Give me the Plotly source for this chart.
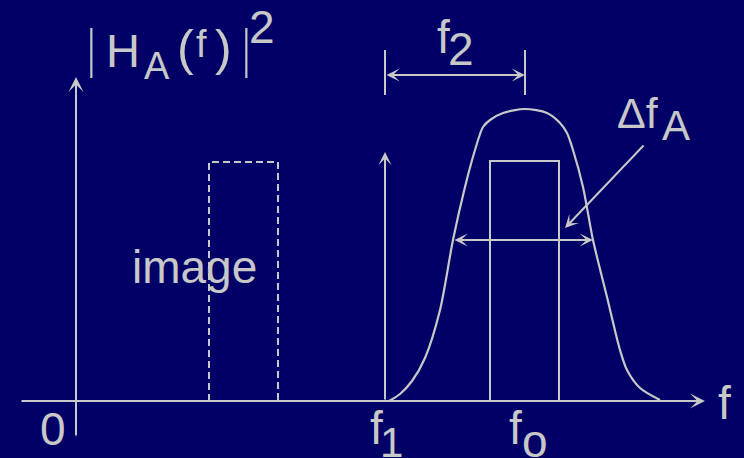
import plotly.graph_objects as go

# Frequency-domain sketch of the IF filter response and the image band.
# Units are measured from the origin (f = 0, |H_A(f)|^2 = 0).
FREQ_AXIS = [-56, 629]          # frequency axis extent
AMP_AXIS = [-36, 324]           # |H_A(f)|^2 axis extent
F1 = 309                        # local-oscillator line f1
F1_LEVEL = 249
IMAGE_BAND = [133, 202]         # image band edges
IMAGE_LEVEL = 239
FO_BAND = [414, 483]            # wanted band around fo
FO_LEVEL = 240
RESPONSE_F = [313, 324, 336, 349, 364, 377, 389, 399, 407, 414, 427, 449,
              471, 484, 491, 497, 507, 517, 531, 544, 551, 564, 584]
RESPONSE_MAG = [0, 7, 20, 43, 91, 161, 214, 251, 274, 281, 288, 292,
                288, 278, 268, 251, 214, 161, 104, 51, 31, 13, 1]
BW_LEVEL = 161                  # level at which the bandwidth is marked
BW_EDGES = [377, 517]
F2_SPAN = [F1, 449]             # f2 measured from f1 to the response peak
F2_LEVEL = 326
F2_TICKS = [306, 351]
LEADER_FROM = [569, 257]
LEADER_TO = [489, 173]

BG = "#000066"
INK = "#c8c8c8"
FONT = "Liberation Sans, Arial, sans-serif"

fig = go.Figure()

# image band (dashed) and wanted band (solid)
fig.add_trace(go.Scatter(
    x=[IMAGE_BAND[0], IMAGE_BAND[0], IMAGE_BAND[1], IMAGE_BAND[1], IMAGE_BAND[0]],
    y=[0, IMAGE_LEVEL, IMAGE_LEVEL, 0, 0],
    mode="lines", line=dict(color=INK, width=2, dash="7px,4px"), hoverinfo="skip"))
fig.add_trace(go.Scatter(
    x=[FO_BAND[0], FO_BAND[0], FO_BAND[1], FO_BAND[1]],
    y=[0, FO_LEVEL, FO_LEVEL, 0],
    mode="lines", line=dict(color=INK, width=2), hoverinfo="skip"))

# filter response
fig.add_trace(go.Scatter(
    x=RESPONSE_F, y=RESPONSE_MAG, mode="lines",
    line=dict(color=INK, width=2.2, shape="spline", smoothing=0.8), hoverinfo="skip"))

# extension lines of the f2 dimension
fig.add_trace(go.Scatter(
    x=[F2_SPAN[0], F2_SPAN[0], None, F2_SPAN[1], F2_SPAN[1]],
    y=[F2_TICKS[0], F2_TICKS[1], None, F2_TICKS[0], F2_TICKS[1]],
    mode="lines", line=dict(color=INK, width=2), hoverinfo="skip"))


def arrow(x0, y0, x1, y1, size=1.25, both=False):
    fig.add_annotation(
        x=x1, y=y1, ax=x0, ay=y0, xref="x", yref="y", axref="x", ayref="y",
        text="", showarrow=True, arrowhead=3, arrowsize=size, arrowwidth=2,
        arrowcolor=INK, arrowside="end+start" if both else "end", startarrowhead=3,
        startarrowsize=size)


arrow(FREQ_AXIS[0], 0, FREQ_AXIS[1], 0)
arrow(0, AMP_AXIS[0], 0, AMP_AXIS[1])
arrow(F1, 0, F1, F1_LEVEL, size=1.1)
arrow(BW_EDGES[0], BW_LEVEL, BW_EDGES[1], BW_LEVEL, size=1.1, both=True)
arrow(F2_SPAN[0], F2_LEVEL, F2_SPAN[1], F2_LEVEL, size=1.1, both=True)
arrow(LEADER_FROM[0], LEADER_FROM[1], LEADER_TO[0], LEADER_TO[1], size=1.1)


def label(text, x, y, size=46, family=FONT, weight="normal"):
    fig.add_annotation(x=x, y=y, xref="x", yref="y", text=text, showarrow=False,
                       xanchor="center", yanchor="middle",
                       font=dict(family=family, size=size, color=INK, weight=weight))


# |H_A(f)|^2
BAR_FONT = "Roboto, Liberation Sans, sans-serif"
label("|", 15, 352, 60, BAR_FONT, 200)
label("H", 46.5, 351, 47)
label("A", 81, 335, 38)
label("(", 109, 353, 50)
label("f", 125, 357, 38)
label(")", 147.5, 353, 50)
label("|", 170, 352, 60, BAR_FONT, 200)
label("2", 186, 374, 46)

label("image", 118.5, 134)
label("0", -23, -28)
label("f", 300, -27)
label("1", 315.5, -41, 42)
label("f", 439.5, -27)
label("o", 459, -40)
label("f", 648, -2)
label("f", 367, 364)
label("2", 384.5, 352)
label("Δf", 562, 288, 43)
label("A", 599.5, 275.5, 42)

fig.update_layout(
    width=744, height=458, margin=dict(l=0, r=0, t=0, b=0),
    paper_bgcolor=BG, plot_bgcolor=BG, showlegend=False,
    xaxis=dict(range=[-76, 668], visible=False, fixedrange=True),
    yaxis=dict(range=[-57, 401], visible=False, fixedrange=True),
)

fig.write_html("out.html")
